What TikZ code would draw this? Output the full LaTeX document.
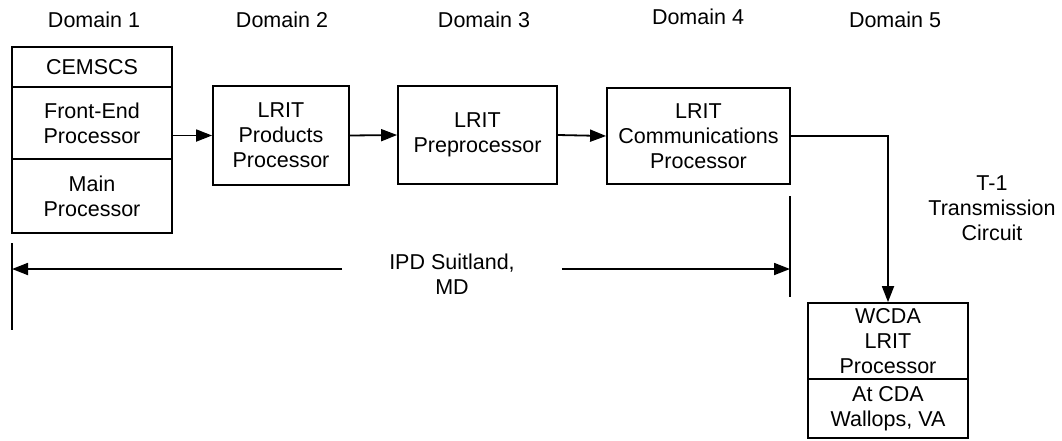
\documentclass[tikz,border=0pt]{standalone}
\usepackage{fontspec}
\setmainfont{Liberation Sans}
\usetikzlibrary{arrows.meta}
\begin{document}
\begin{tikzpicture}[x=1pt,y=-1pt,
  every node/.style={font=\fontsize{21.5}{25}\selectfont},
  box/.style={draw,line width=1.8pt,inner sep=0pt,align=center},
  conn/.style={line width=1.8pt,-{Triangle[length=16pt,width=12pt]}},
  bar/.style={line width=1.6pt}]
\useasboundingbox (0,0) rectangle (1062,440);
% domain labels
\node (d1) at (94,20) {Domain 1};
\node (d2) at (282,20) {Domain 2};
\node (d3) at (484,20) {Domain 3};
\node (d4) at (698,17) {Domain 4};
\node (d5) at (895,20) {Domain 5};
% left stacked box
\node[box,minimum width=160pt,minimum height=40pt] (cem) at (92,67) {CEMSCS};
\node[box,minimum width=160pt,minimum height=72pt] (fe) at (92,123) {Front-End\\Processor};
\node[box,minimum width=160pt,minimum height=74pt] (mp) at (92,196) {Main\\Processor};
% chain
\node[box,minimum width=136pt,minimum height=99pt] (prod) at (281,135.5) {LRIT\\Products\\Processor};
\node[box,minimum width=159pt,minimum height=98pt] (prep) at (477.5,135) {LRIT\\Preprocessor};
\node[box,minimum width=183pt,minimum height=96pt] (comm) at (698.5,136) {LRIT\\Communications\\Processor};
% WCDA box
\node[box,minimum width=160pt,minimum height=76pt] (wtop) at (888,341) {WCDA\\LRIT\\Processor};
\node[box,minimum width=160pt,minimum height=59pt] (wbot) at (888,408.5) {At CDA\\Wallops, VA};
% connectors
\draw[conn] (fe.east |- prod.west) -- (prod.west);
\draw[conn] (prod.east) -- (prep.west);
\draw[conn] (prep.east) -- (comm.west);
\draw[conn] (comm.east) -| (wtop.north);
% T-1 label
\node[align=center] (t1) at (992,208) {T-1\\Transmission\\Circuit};
% IPD span
\coordinate (lbt) at (12,243);
\coordinate (lbb) at (12,330);
\coordinate (rbt) at (790,196);
\coordinate (rbb) at (790,297);
\draw[bar] (lbt) -- (lbb);
\draw[bar] (rbt) -- (rbb);
\node[align=center,inner xsep=47pt,inner ysep=0pt] (ipd) at (452,274) {IPD Suitland,\\MD};
\coordinate (la) at (12,269);
\coordinate (ra) at (790,269);
\draw[conn] (ipd.west |- la) -- (la);
\draw[conn] (ipd.east |- ra) -- (ra);
\end{tikzpicture}
\end{document}
